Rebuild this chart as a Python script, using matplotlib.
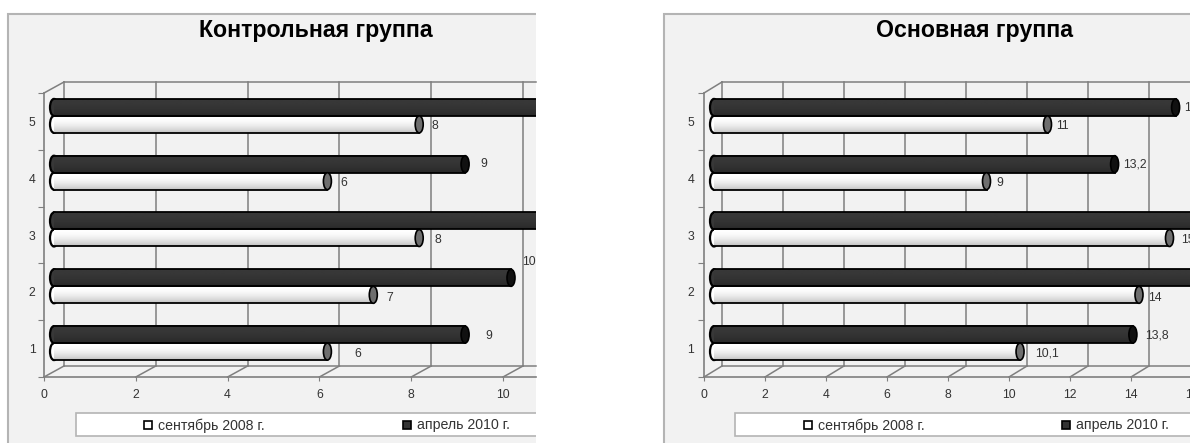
import numpy as np
from matplotlib import pyplot as plt
from matplotlib.patches import Rectangle, Ellipse

plt.rcParams['font.family'] = ['Liberation Sans', 'DejaVu Sans']

W, H = 1190, 443

categories = [1, 2, 3, 4, 5]
series_names = ['сентябрь 2008 г.', 'апрель 2010 г.']

control_title = 'Контрольная группа'
control_sep = [6, 7, 8, 6, 8]
control_apr = [9, 10, 11, 9, 11]
control_sep_labels = ['6', '7', '8', '6', '8']
control_apr_labels = ['9', '10', '11', '9', '11']
control_xticks = [0, 2, 4, 6, 8, 10]

main_title = 'Основная группа'
main_sep = [10.1, 14, 15, 9, 11]
main_apr = [13.8, 16.5, 16.5, 13.2, 15.2]
main_sep_labels = ['10,1', '14', '15', '9', '11']
main_apr_labels = ['13,8', '16,5', '16,5', '13,2', '15,2']
main_xticks = [0, 2, 4, 6, 8, 10, 12, 14, 16]

GRID = '#7f7f7f'
TEXT = '#333333'
PANEL = '#f2f2f2'
BORDER = '#b4b4b4'

fig = plt.figure(figsize=(W / 100, H / 100), dpi=100, facecolor='white')


def fig_box(x0, y0, x1, y1, **kw):
    '''Rectangle on the figure, given in pixels from the top left corner.'''
    fig.patches.append(Rectangle((x0 / W, 1 - y1 / H), (x1 - x0) / W, (y1 - y0) / H,
                                 transform=fig.transFigure, figure=fig, **kw))


def fig_text(x, y, s, **kw):
    fig.text(x / W, 1 - y / H, s, color=kw.pop('color', TEXT), va='center', **kw)


def draw_bars(ax, y_pos, values, labels, offsets, scale, shade, cap_color, py):
    '''One series of cylinders, with value labels next to the caps.'''
    start = 6 / scale
    depth = 12 / scale
    cap = 8 / scale
    thick = 17 / py
    xlim = ax.get_xlim()[1]
    for y, v, lab, off in zip(y_pos, values, labels, offsets):
        end = v + depth
        body_left = start + cap / 2
        body_right = end - cap / 2
        ax.add_patch(Ellipse((body_left, y), cap, thick, fc=plt.cm.gray(shade[0]),
                             ec='black', lw=1.6, zorder=3))
        ax.barh(y, body_right - body_left, left=body_left, height=thick, color='none', zorder=4)
        # shading across the cylinder, lit from above
        grad = (shade[0] + (shade[1] - shade[0]) * np.linspace(0, 1, 32) ** 2).reshape(-1, 1)
        ax.imshow(grad, extent=[body_left, min(body_right, xlim), y - thick / 2, y + thick / 2],
                  origin='upper', cmap='gray', vmin=0, vmax=1, aspect='auto', zorder=4)
        ax.plot([body_left, body_right], [y + thick / 2, y + thick / 2], color='black', lw=1.3, zorder=5)
        ax.plot([body_left, body_right], [y - thick / 2, y - thick / 2], color='black', lw=1.3, zorder=5)
        ax.add_patch(Ellipse((body_right, y), cap, thick, fc=cap_color, ec='black',
                             lw=1.2, zorder=6))
        if off is not None:
            ax.annotate(lab, (end, y), xytext=off, textcoords='offset pixels', ha='center',
                        va='center', fontsize=8.8, color=TEXT, zorder=7, clip_on=True,
                        annotation_clip=False)


def draw_panel(title, sep, apr, sep_labels, apr_labels, sep_off, apr_off, xticks,
               x0, x_right, scale, back, panel_left, legend_left, title_x, ytick_pad,
               legend_x):
    # panel and legend box, both run up to the clipped right edge
    fig_box(panel_left, 14, x_right + 5, H + 5, fc=PANEL, ec=BORDER, lw=1.5)
    fig_box(legend_left, 413, x_right + 5, 436, fc='white', ec=BORDER, lw=1.2)
    if x_right < 600:
        fig_box(x_right, 0, x_right + 60, H + 1, fc='white', ec='none', zorder=1.5)

    y_front, y_top = 377, 93
    py = (y_front - y_top) / 5.0
    ax = fig.add_axes([x0 / W, 1 - y_front / H, (x_right - x0) / W, (y_front - y_top) / H])
    ax.set_zorder(2)
    ax.patch.set_alpha(0)
    xlim = (x_right - x0) / scale
    ax.set_xlim(0, xlim)
    ax.set_ylim(0.5, 5.5)

    for s in ['top', 'right']:
        ax.spines[s].set_visible(False)
    for s in ['left', 'bottom']:
        ax.spines[s].set_color(GRID)
        ax.spines[s].set_linewidth(1.2)

    ax.set_xticks(xticks)
    ax.set_yticks(np.arange(0.5, 6, 1))
    ax.set_yticklabels([])
    ax.set_yticks(categories, minor=True)
    ax.set_yticklabels([str(c) for c in categories], minor=True)
    ax.tick_params(axis='x', length=3, color=GRID, labelsize=8.8, labelcolor=TEXT, pad=6)
    ax.tick_params(axis='y', which='major', length=4, color=GRID)
    ax.tick_params(axis='y', which='minor', length=0, labelsize=8.8, labelcolor=TEXT, pad=ytick_pad)

    # back wall and floor of the 3D box
    dx = back / scale
    dy = 11 / py
    line = dict(color=GRID, lw=1.1, clip_on=False, zorder=1)
    ax.plot([dx, xlim], [5.5 + dy, 5.5 + dy], **line)
    ax.plot([dx, xlim], [0.5 + dy, 0.5 + dy], **line)
    ax.plot([0, dx], [5.5, 5.5 + dy], **line)
    for t in xticks:
        ax.plot([t, t + dx], [0.5, 0.5 + dy], **line)
        if t + dx < xlim:
            ax.plot([t + dx, t + dx], [0.5 + dy, 5.5 + dy], **line)

    y_sep = [c - 3 / py for c in categories]
    y_apr = [c + 14 / py for c in categories]
    draw_bars(ax, y_sep, sep, sep_labels, sep_off, scale, (1.0, 0.76), '#6e6e6e', py)
    draw_bars(ax, y_apr, apr, apr_labels, apr_off, scale, (0.22, 0.16), '#111111', py)
    ax.set_xlim(0, xlim)
    ax.set_ylim(0.5, 5.5)

    fig_text(title_x, 30, title, fontsize=16.7, fontweight='bold', color='black', ha='center',
             zorder=3)

    # legend entries
    for (mx, name, col) in zip(legend_x, series_names, ['white', '#333333']):
        fig_box(mx - 4, 421, mx + 4, 429, fc=col, ec='black', lw=1.2)
        fig_text(mx + 10, 425.5, name, fontsize=10.2, ha='left', zorder=3)


# pixel shift of each value label from the end of its bar
control_sep_off = [(26, -2), (12, -3), (15, -2), (12, -2), (12, -2)]
control_apr_off = [(20, -1), (14, 16), None, (15, 0), None]
main_sep_off = [(23, -2), (12, -3), (14, -2), (9, -2), (11, -2)]
main_apr_off = [(20, -1), None, None, (16, 0), (16, 0)]

draw_panel(control_title, control_sep, control_apr, control_sep_labels, control_apr_labels,
           control_sep_off, control_apr_off, control_xticks,
           44, 536, 45.9, 20, 8, 76, 316, 6, (148, 407))
draw_panel(main_title, main_sep, main_apr, main_sep_labels, main_apr_labels,
           main_sep_off, main_apr_off, main_xticks,
           704, 1193, 30.5, 18, 664, 735, 975, 7, (808, 1066))

plt.savefig('out.png', dpi=100)
